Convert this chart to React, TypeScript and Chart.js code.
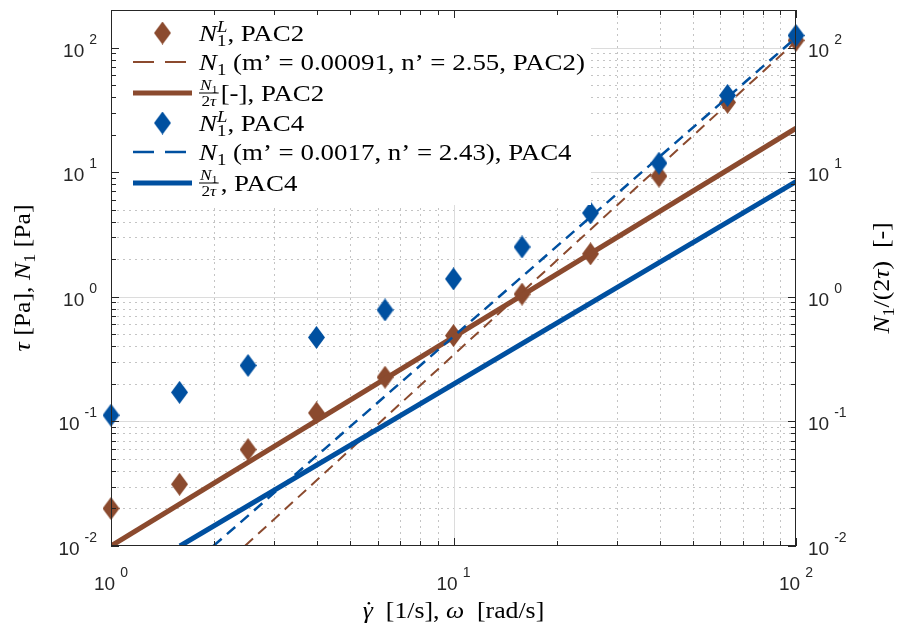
import React, { useEffect, useRef } from 'react';
import { Chart, registerables } from 'chart.js';

Chart.register(...registerables);

// ---------- data ----------
const shearRates = [1, 1.585, 2.512, 3.981, 6.31, 10, 15.85, 25.12, 39.81, 63.1, 100];
const n1LPac2 = [0.02, 0.0313, 0.0594, 0.117, 0.226, 0.488, 1.05, 2.21, 9.29, 36.3, 114];
const n1LPac4 = [0.112, 0.171, 0.281, 0.472, 0.783, 1.39, 2.51, 4.7, 11.8, 41.3, 125];

const fitPac2X = [2.46, 100];
const fitPac2Y = [0.01, 112];
const fitPac4X = [1.99, 100];
const fitPac4Y = [0.01, 120];
const ratioPac2X = [1, 100];
const ratioPac2Y = [0.01, 22.5];
const ratioPac4X = [1.59, 100];
const ratioPac4Y = [0.01, 8.4];

const xMin = 1;
const xMax = 100;
const yMin = 0.01;
const yMax = 200;
const xTickValues = [1, 10, 100];
const xTickExps = ['0', '1', '2'];
const yTickValues = [0.01, 0.1, 1, 10, 100];
const yTickExps = ['-2', '-1', '0', '1', '2'];
const minorMultipliers = [2, 3, 4, 5, 6, 7, 8, 9];

const BROWN = '#8b4a2e';
const BLUE = '#0050a0';

const SERIF = '"Liberation Serif", "Times New Roman", serif';
const SANS = '"Liberation Sans", Arial, sans-serif';
const SX = 1.12; // horizontal stretch to approximate Computer Modern widths

type Run = { t: string; it?: boolean; sc?: number; dy?: number; noAdv?: boolean; dot?: boolean };

function setFont(ctx: CanvasRenderingContext2D, size: number, it?: boolean) {
  ctx.font = `${it ? 'italic ' : ''}${size}px ${SERIF}`;
}

function runsWidth(ctx: CanvasRenderingContext2D, runs: Run[], size: number) {
  let w = 0;
  let pend = 0;
  for (const r of runs) {
    setFont(ctx, size * (r.sc ?? 1), r.it);
    const m = ctx.measureText(r.t).width * SX;
    if (r.noAdv) pend = Math.max(pend, m);
    else {
      w += Math.max(m, pend);
      pend = 0;
    }
  }
  return w + pend;
}

function drawRuns(ctx: CanvasRenderingContext2D, runs: Run[], x: number, y: number, size: number) {
  let cx = x;
  let pend = 0;
  for (const r of runs) {
    const s = size * (r.sc ?? 1);
    setFont(ctx, s, r.it);
    ctx.save();
    ctx.translate(cx, y + (r.dy ?? 0) * size);
    ctx.scale(SX, 1);
    ctx.fillText(r.t, 0, 0);
    ctx.restore();
    const m = ctx.measureText(r.t).width * SX;
    if (r.dot) {
      ctx.beginPath();
      ctx.arc(cx + m * 0.6, y - size * 0.64, size * 0.055, 0, Math.PI * 2);
      ctx.fill();
    }
    if (r.noAdv) pend = Math.max(pend, m);
    else {
      cx += Math.max(m, pend);
      pend = 0;
    }
  }
  return cx - x;
}

function drawFrac(ctx: CanvasRenderingContext2D, x: number, cy: number, size: number) {
  const num: Run[] = [{ t: 'N', it: true }, { t: '1', sc: 0.72, dy: 0.2 }];
  const den: Run[] = [{ t: '2' }, { t: 'τ', it: true }];
  const s = size * 0.64;
  const wn = runsWidth(ctx, num, s);
  const wd = runsWidth(ctx, den, s);
  const w = Math.max(wn, wd) + 2;
  drawRuns(ctx, num, x + (w - wn) / 2, cy - 3, s);
  drawRuns(ctx, den, x + (w - wd) / 2, cy + s * 0.72 + 1.5, s);
  ctx.fillRect(x, cy - 0.5, w, 1);
  return w;
}

function makeDiamond(color: string) {
  const c = document.createElement('canvas');
  c.width = 17;
  c.height = 23;
  const g = c.getContext('2d')!;
  g.fillStyle = color;
  g.beginPath();
  g.moveTo(8.5, 0);
  g.lineTo(17, 11.5);
  g.lineTo(8.5, 23);
  g.lineTo(0, 11.5);
  g.closePath();
  g.fill();
  return c;
}

function pts(xs: number[], ys: number[]) {
  return xs.map((x, i) => ({ x, y: ys[i] }));
}

function makePlugin(brownD: HTMLCanvasElement, blueD: HTMLCanvasElement) {
  return {
    id: 'decor',
    beforeDatasetsDraw(chart: any) {
      const { ctx, chartArea } = chart;
      const { left, right, top, bottom } = chartArea;
      const xs = chart.scales.x;
      const ys = chart.scales.y;
      ctx.save();
      ctx.fillStyle = '#fff';
      ctx.fillRect(left, top, right - left, bottom - top);
      ctx.lineWidth = 1;
      // minor dotted grid
      ctx.strokeStyle = '#c4c4c4';
      ctx.setLineDash([2, 4]);
      for (const d of xTickValues) {
        for (const m of minorMultipliers) {
          const v = d * m;
          if (v <= xMin || v >= xMax) continue;
          const px = Math.round(xs.getPixelForValue(v)) + 0.5;
          ctx.beginPath();
          ctx.moveTo(px, top);
          ctx.lineTo(px, bottom);
          ctx.stroke();
        }
      }
      for (const d of yTickValues) {
        for (const m of minorMultipliers) {
          const v = d * m;
          if (v <= yMin || v >= yMax) continue;
          const py = Math.round(ys.getPixelForValue(v)) + 0.5;
          ctx.beginPath();
          ctx.moveTo(left, py);
          ctx.lineTo(right, py);
          ctx.stroke();
        }
      }
      // major grid
      ctx.setLineDash([]);
      ctx.strokeStyle = '#dcdcdc';
      for (const v of xTickValues) {
        if (v <= xMin || v >= xMax) continue;
        const px = Math.round(xs.getPixelForValue(v)) + 0.5;
        ctx.beginPath();
        ctx.moveTo(px, top);
        ctx.lineTo(px, bottom);
        ctx.stroke();
      }
      for (const v of yTickValues) {
        if (v <= yMin || v >= yMax) continue;
        const py = Math.round(ys.getPixelForValue(v)) + 0.5;
        ctx.beginPath();
        ctx.moveTo(left, py);
        ctx.lineTo(right, py);
        ctx.stroke();
      }
      ctx.restore();
    },
    afterDatasetsDraw(chart: any) {
      const { ctx, chartArea } = chart;
      const { left, right, top, bottom } = chartArea;
      const xs = chart.scales.x;
      const ys = chart.scales.y;
      ctx.save();

      // ---- legend ----
      ctx.fillStyle = '#fff';
      ctx.fillRect(left + 1, top + 1, 479, 194);
      const rowY = [33, 62, 93, 123, 152, 183];
      const iconL = left + 22;
      const iconR = left + 81;
      const textX = left + 88;
      const fs = 24;
      const items = [
        { kind: 'marker', img: brownD, runs: [{ t: 'N', it: true }, { t: '1', sc: 0.7, dy: 0.22, noAdv: true }, { t: 'L', it: true, sc: 0.7, dy: -0.38 }, { t: ', PAC2' }] },
        { kind: 'dash', color: BROWN, lw: 2, runs: [{ t: 'N', it: true }, { t: '1', sc: 0.7, dy: 0.22 }, { t: ' (m’ = 0.00091, n’ = 2.55, PAC2)' }] },
        { kind: 'solid', color: BROWN, lw: 5, frac: true, runs: [{ t: '[-], PAC2' }] },
        { kind: 'marker', img: blueD, runs: [{ t: 'N', it: true }, { t: '1', sc: 0.7, dy: 0.22, noAdv: true }, { t: 'L', it: true, sc: 0.7, dy: -0.38 }, { t: ', PAC4' }] },
        { kind: 'dash', color: BLUE, lw: 2.5, runs: [{ t: 'N', it: true }, { t: '1', sc: 0.7, dy: 0.22 }, { t: ' (m’ = 0.0017, n’ = 2.43), PAC4' }] },
        { kind: 'solid', color: BLUE, lw: 5, frac: true, runs: [{ t: ', PAC4' }] },
      ];
      items.forEach((it: any, i) => {
        const cy = rowY[i];
        if (it.kind === 'marker') {
          ctx.drawImage(it.img, (iconL + iconR) / 2 - 8.5, cy - 11.5);
        } else {
          ctx.strokeStyle = it.color;
          ctx.lineWidth = it.lw;
          ctx.setLineDash(it.kind === 'dash' ? [21, 11] : []);
          ctx.beginPath();
          ctx.moveTo(iconL, cy);
          ctx.lineTo(iconR, cy);
          ctx.stroke();
          ctx.setLineDash([]);
        }
        ctx.fillStyle = '#000';
        ctx.textBaseline = 'alphabetic';
        ctx.textAlign = 'left';
        let x = textX;
        if (it.frac) {
          x += drawFrac(ctx, x, cy, fs) + 2;
        }
        drawRuns(ctx, it.runs, x, cy + 8, fs);
      });

      // ---- frame and ticks ----
      ctx.strokeStyle = '#262626';
      ctx.lineWidth = 1;
      ctx.strokeRect(left + 0.5, top + 0.5, right - left - 1, bottom - top - 1);
      const tick = (x1: number, y1: number, x2: number, y2: number) => {
        ctx.beginPath();
        ctx.moveTo(x1, y1);
        ctx.lineTo(x2, y2);
        ctx.stroke();
      };
      const MAJ = 8;
      const MIN = 5;
      for (const d of xTickValues) {
        const px = Math.round(xs.getPixelForValue(d)) + 0.5;
        tick(px, bottom, px, bottom - MAJ);
        tick(px, top, px, top + MAJ);
        for (const m of minorMultipliers) {
          const v = d * m;
          if (v >= xMax) continue;
          const qx = Math.round(xs.getPixelForValue(v)) + 0.5;
          tick(qx, bottom, qx, bottom - MIN);
          tick(qx, top, qx, top + MIN);
        }
      }
      for (const d of yTickValues) {
        const py = Math.round(ys.getPixelForValue(d)) + 0.5;
        tick(left, py, left + MAJ, py);
        tick(right, py, right - MAJ, py);
        for (const m of minorMultipliers) {
          const v = d * m;
          if (v >= yMax) continue;
          const qy = Math.round(ys.getPixelForValue(v)) + 0.5;
          tick(left, qy, left + MIN, qy);
          tick(right, qy, right - MIN, qy);
        }
      }

      // ---- tick labels ----
      ctx.fillStyle = '#262626';
      const bigF = `19px ${SANS}`;
      const smallF = `14px ${SANS}`;
      const labelW = (e: string) => {
        ctx.font = bigF;
        const a = ctx.measureText('10').width;
        ctx.font = smallF;
        const b = ctx.measureText(e).width;
        return { a, b, w: a + 5 + b };
      };
      const drawLabel = (e: string, x0: number, base: number) => {
        const { a } = labelW(e);
        ctx.font = bigF;
        ctx.fillText('10', x0, base);
        ctx.font = smallF;
        ctx.fillText(e, x0 + a + 5, base - 13);
      };
      yTickValues.forEach((v, i) => {
        const py = ys.getPixelForValue(v);
        const { w } = labelW(yTickExps[i]);
        drawLabel(yTickExps[i], left - 14 - w, py + 9);
        drawLabel(yTickExps[i], right + 12, py + 9);
      });
      xTickValues.forEach((v, i) => {
        const px = xs.getPixelForValue(v);
        const { w } = labelW(xTickExps[i]);
        drawLabel(xTickExps[i], px - w / 2, 590);
      });

      // ---- axis titles ----
      ctx.fillStyle = '#000';
      const tfs = 23;
      const xTitle: Run[] = [{ t: 'γ', it: true, dot: true }, { t: '  [1/s], ' }, { t: 'ω', it: true }, { t: '  [rad/s]' }];
      const xw = runsWidth(ctx, xTitle, tfs);
      drawRuns(ctx, xTitle, (left + right) / 2 - xw / 2, 618, tfs);

      const yTitle: Run[] = [{ t: 'τ', it: true }, { t: ' [Pa], ' }, { t: 'N', it: true }, { t: '1', sc: 0.7, dy: 0.22 }, { t: ' [Pa]' }];
      const yw = runsWidth(ctx, yTitle, tfs);
      ctx.save();
      ctx.translate(30, (top + bottom) / 2);
      ctx.rotate(-Math.PI / 2);
      drawRuns(ctx, yTitle, -yw / 2, 0, tfs);
      ctx.restore();

      const rTitle: Run[] = [{ t: 'N', it: true }, { t: '1', sc: 0.7, dy: 0.22 }, { t: '/(2' }, { t: 'τ', it: true }, { t: ')  [-]' }];
      const rw = runsWidth(ctx, rTitle, tfs);
      ctx.save();
      ctx.translate(889, (top + bottom) / 2);
      ctx.rotate(-Math.PI / 2);
      drawRuns(ctx, rTitle, -rw / 2, 0, tfs);
      ctx.restore();

      ctx.restore();
    },
  };
}

export default function App() {
  const ref = useRef<HTMLCanvasElement>(null);
  useEffect(() => {
    const canvas = ref.current!;
    const brownD = makeDiamond(BROWN);
    const blueD = makeDiamond(BLUE);
    const chart = new Chart(canvas, {
      type: 'scatter',
      data: {
        datasets: [
          { label: 'N1L PAC2', data: pts(shearRates, n1LPac2), pointStyle: brownD as any, pointRadius: 9, showLine: false, clip: false as any, order: 6 },
          { label: 'N1 fit PAC2', data: pts(fitPac2X, fitPac2Y), showLine: true, borderColor: BROWN, borderWidth: 2, borderDash: [11, 7], pointRadius: 0, order: 5 },
          { label: 'N1/2tau PAC2', data: pts(ratioPac2X, ratioPac2Y), showLine: true, borderColor: BROWN, borderWidth: 5, pointRadius: 0, order: 4 },
          { label: 'N1L PAC4', data: pts(shearRates, n1LPac4), pointStyle: blueD as any, pointRadius: 9, showLine: false, clip: false as any, order: 3 },
          { label: 'N1 fit PAC4', data: pts(fitPac4X, fitPac4Y), showLine: true, borderColor: BLUE, borderWidth: 2.5, borderDash: [11, 7], pointRadius: 0, order: 2 },
          { label: 'N1/2tau PAC4', data: pts(ratioPac4X, ratioPac4Y), showLine: true, borderColor: BLUE, borderWidth: 5, pointRadius: 0, order: 1 },
        ] as any,
      },
      options: {
        responsive: false,
        animation: false,
        devicePixelRatio: 1,
        events: [],
        layout: { padding: { left: 111, right: 102, top: 8, bottom: 88 } },
        plugins: { legend: { display: false }, tooltip: { enabled: false } },
        scales: {
          x: { type: 'logarithmic', min: xMin, max: xMax, display: false },
          y: { type: 'logarithmic', min: yMin, max: yMax, display: false },
        },
      } as any,
      plugins: [makePlugin(brownD, blueD)],
    });
    return () => chart.destroy();
  }, []);
  return (
    <div style={{ position: 'absolute', left: 0, top: 0, width: 898, height: 634, background: '#fff' }}>
      <canvas ref={ref} width={898} height={634} style={{ display: 'block', width: 898, height: 634 }} />
    </div>
  );
}
